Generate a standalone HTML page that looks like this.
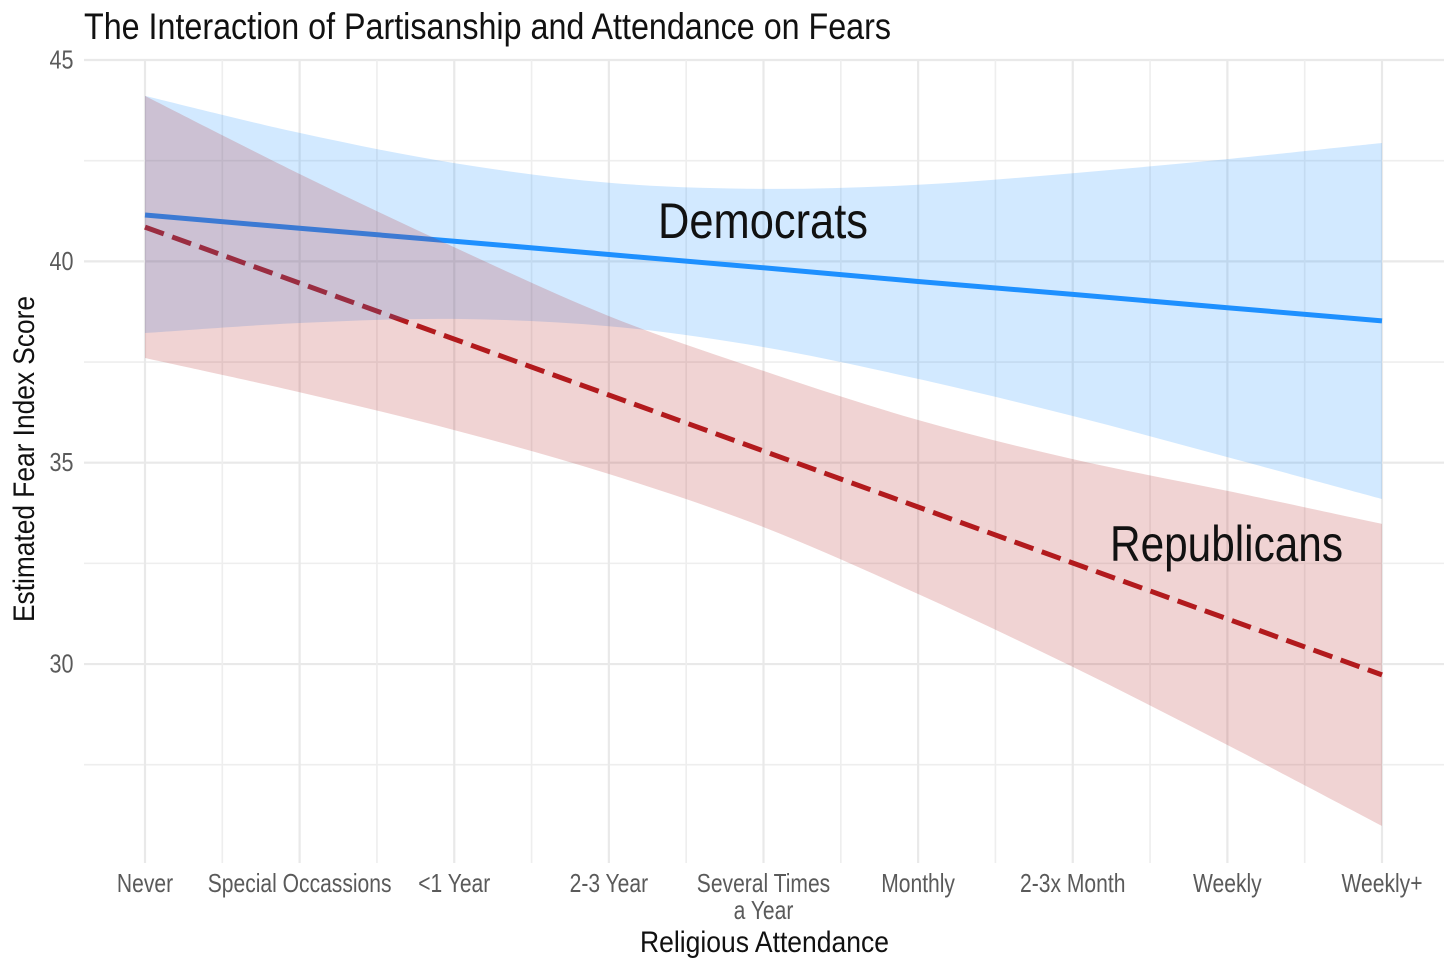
<!DOCTYPE html>
<html lang="en">
<head>
<meta charset="utf-8">
<title>The Interaction of Partisanship and Attendance on Fears</title>
<style>
  html, body { margin: 0; padding: 0; background: #fff; }
  body { width: 1456px; height: 971px; overflow: hidden; }
  svg { display: block; font-family: "Liberation Sans", sans-serif; }
  text { font-weight: 400; }
</style>
</head>
<body>
<svg id="chart" xmlns="http://www.w3.org/2000/svg" width="1456" height="971" viewBox="0 0 1456 971">
  <rect width="1456" height="971" fill="#ffffff"/>
  <g id="grid"></g>
  <g id="lines"></g>
  <g id="ribbons"></g>
  <g id="xticks"></g>
  <g id="yticks"></g>
  <text x="84" y="39" font-size="37" fill="#111" textLength="807" lengthAdjust="spacingAndGlyphs">The Interaction of Partisanship and Attendance on Fears</text>
  <text x="640" y="952" font-size="30" fill="#111" textLength="249" lengthAdjust="spacingAndGlyphs">Religious Attendance</text>
  <text transform="translate(34 622) rotate(-90)" font-size="30" fill="#111" textLength="326" lengthAdjust="spacingAndGlyphs">Estimated Fear Index Score</text>
  <text x="658" y="238" font-size="50" fill="#111" textLength="210" lengthAdjust="spacingAndGlyphs">Democrats</text>
  <text x="1110" y="561" font-size="50" fill="#111" textLength="233" lengthAdjust="spacingAndGlyphs">Republicans</text>
</svg>
<script>
const categories = ["Never", "Special Occassions", "<1 Year", "2-3 Year", "Several Times\na Year", "Monthly", "2-3x Month", "Weekly", "Weekly+"];
const yMajorTicks = [30, 35, 40, 45];
const yMinorTicks = [27.5, 32.5, 37.5, 42.5];
const demFit = [41.15, 40.82, 40.50, 40.17, 39.84, 39.50, 39.18, 38.85, 38.52];
const demUpper = [44.11, 43.19, 42.44, 41.95, 41.80, 41.90, 42.19, 42.54, 42.94];
const demLower = [38.22, 38.47, 38.57, 38.39, 37.87, 37.08, 36.16, 35.14, 34.10];
const repFit = [40.85, 39.46, 38.07, 36.68, 35.29, 33.90, 32.51, 31.12, 29.73];
const repUpper = [44.11, 42.17, 40.35, 38.64, 37.28, 36.06, 35.09, 34.30, 33.48];
const repLower = [37.60, 36.75, 35.81, 34.72, 33.40, 31.74, 29.93, 27.99, 25.98];

const SVG_NS = "http://www.w3.org/2000/svg";
const panel = { left: 84, right: 1444, top: 60, bottom: 863 };
const xScale = i => 145 + i * (1382 - 145) / 8;
const yScale = v => 60 + (45 - v) * 40.27;

function make(tag, parent) {
  const el = document.createElementNS(SVG_NS, tag);
  parent.appendChild(el);
  return el;
}
function smoothPoints(values) {
  return values.map((v, i) => [xScale(i), yScale(v)]);
}
function curveSegments(pts) {
  let d = "";
  for (let i = 0; i < pts.length - 1; i++) {
    const p0 = pts[Math.max(i - 1, 0)], p1 = pts[i], p2 = pts[i + 1], p3 = pts[Math.min(i + 2, pts.length - 1)];
    const c1 = [p1[0] + (p2[0] - p0[0]) / 6, p1[1] + (p2[1] - p0[1]) / 6];
    const c2 = [p2[0] - (p3[0] - p1[0]) / 6, p2[1] - (p3[1] - p1[1]) / 6];
    d += "C" + c1[0].toFixed(1) + " " + c1[1].toFixed(1) + " " + c2[0].toFixed(1) + " " + c2[1].toFixed(1) + " " + p2[0].toFixed(1) + " " + p2[1].toFixed(1);
  }
  return d;
}
function ribbonPath(upper, lower) {
  const top = smoothPoints(upper);
  const bottom = smoothPoints(lower).reverse();
  return "M" + top[0][0] + " " + top[0][1] + curveSegments(top) +
         "L" + bottom[0][0] + " " + bottom[0][1] + curveSegments(bottom) + "Z";
}
function linePath(values) {
  const pts = smoothPoints(values);
  return "M" + pts.map(p => p[0].toFixed(1) + " " + p[1].toFixed(1)).join("L");
}
function condense(textEl, factor) {
  const w = textEl.getComputedTextLength();
  textEl.setAttribute("textLength", (w * factor).toFixed(1));
  textEl.setAttribute("lengthAdjust", "spacingAndGlyphs");
}

const grid = document.getElementById("grid");
yMinorTicks.forEach(v => {
  const l = make("line", grid);
  
  
  l.setAttribute("x1", panel.left); l.setAttribute("x2", panel.right);
  l.setAttribute("y1", yScale(v)); l.setAttribute("y2", yScale(v));
  l.setAttribute("stroke", "#eeeeee"); l.setAttribute("stroke-width", "1.6");
});
yMajorTicks.forEach(v => {
  const l = make("line", grid);
  
  
  l.setAttribute("x1", panel.left); l.setAttribute("x2", panel.right);
  l.setAttribute("y1", yScale(v)); l.setAttribute("y2", yScale(v));
  l.setAttribute("stroke", "#e9e9e9"); l.setAttribute("stroke-width", "2.2");
});
categories.forEach((c, i) => {
  if (i < categories.length - 1) {
    const m = make("line", grid);
    
    
    m.setAttribute("x1", xScale(i + 0.5)); m.setAttribute("x2", xScale(i + 0.5));
    m.setAttribute("y1", panel.top); m.setAttribute("y2", panel.bottom);
    m.setAttribute("stroke", "#eeeeee"); m.setAttribute("stroke-width", "1.6");
  }
  const l = make("line", grid);
  
  
  l.setAttribute("x1", xScale(i)); l.setAttribute("x2", xScale(i));
  l.setAttribute("y1", panel.top); l.setAttribute("y2", panel.bottom);
  l.setAttribute("stroke", "#e9e9e9"); l.setAttribute("stroke-width", "2.2");
});

const lines = document.getElementById("lines");
const demLine = make("path", lines);


demLine.setAttribute("d", linePath(demFit));
demLine.setAttribute("fill", "none");
demLine.setAttribute("stroke", "#1e90ff");
demLine.setAttribute("stroke-width", "5");

const repLine = make("path", lines);


repLine.setAttribute("d", linePath(repFit));
repLine.setAttribute("fill", "none");
repLine.setAttribute("stroke", "#b2181c");
repLine.setAttribute("stroke-width", "5");
repLine.setAttribute("stroke-dasharray", "20 8.9");

const ribbons = document.getElementById("ribbons");
const demRibbon = make("path", ribbons);


demRibbon.setAttribute("d", ribbonPath(demUpper, demLower));
demRibbon.setAttribute("fill", "#1e90ff");
demRibbon.setAttribute("fill-opacity", "0.2");

const repRibbon = make("path", ribbons);


repRibbon.setAttribute("d", ribbonPath(repUpper, repLower));
repRibbon.setAttribute("fill", "#b22222");
repRibbon.setAttribute("fill-opacity", "0.2");

const xticks = document.getElementById("xticks");
categories.forEach((c, i) => {
  c.split("\n").forEach((part, row) => {
    const t = make("text", xticks);
    
    
    t.setAttribute("x", xScale(i));
    t.setAttribute("y", 892 + row * 27);
    t.setAttribute("text-anchor", "middle");
    t.setAttribute("font-size", "26");
    t.setAttribute("fill", "#5a5a5a");
    t.textContent = part;
    condense(t, 0.81);
  });
});

const yticks = document.getElementById("yticks");
yMajorTicks.forEach(v => {
  const t = make("text", yticks);
  
  
  t.setAttribute("x", 73.5);
  t.setAttribute("y", yScale(v) + 8.5);
  t.setAttribute("text-anchor", "end");
  t.setAttribute("font-size", "26");
  t.setAttribute("fill", "#5a5a5a");
  t.textContent = String(v);
  condense(t, 0.83);
});
</script>
</body>
</html>
